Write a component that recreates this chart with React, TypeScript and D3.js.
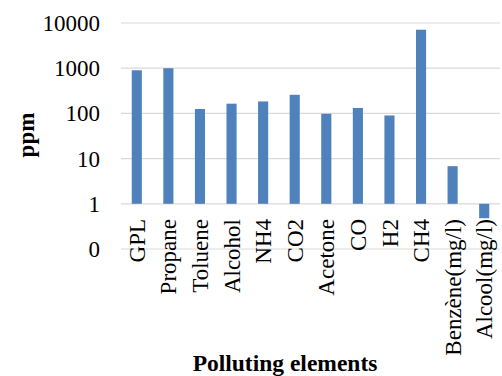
import React from "react";
import * as d3 from "d3";

const categories = ["GPL","Propane","Toluene","Alcohol","NH4","CO2","Acetone","CO","H2","CH4","Benzène(mg/l)","Alcool(mg/l)"];
const values = [900, 1000, 125, 164, 184, 258, 98, 132, 90, 7100, 6.8, 0.48];
const tickValues = [0.1, 1, 10, 100, 1000, 10000];
const tickLabels = ["0", "1", "10", "100", "1000", "10000"];

const W = 502, H = 376;
const font = "'Liberation Serif', 'Times New Roman', serif";

export default function App() {
  const x = d3.scaleBand<string>().domain(categories).range([121, 500]).paddingInner(0.68).paddingOuter(0.34);
  const y = d3.scaleLog().domain([0.1, 10000]).range([249, 23]);
  const base = y(1);
  return (
    <svg width={W} height={H} style={{ position: "absolute", left: 0, top: 0 }} fontFamily={font}>
      <rect width={W} height={H} fill="#fff" />
      {tickValues.map((t, i) => (
        <g key={t}>
          <line x1={121} x2={500} y1={y(t)} y2={y(t)} stroke="#d9d9d9" strokeWidth={1.2} />
          <text x={100} y={y(t)} dy="0.35em" textAnchor="end" fontSize={23} fill="#000">{tickLabels[i]}</text>
        </g>
      ))}
      {categories.map((c, i) => {
        const v = values[i];
        const y0 = Math.min(base, y(v));
        const y1 = Math.max(base, y(v));
        return <rect key={c} x={x(c)} width={x.bandwidth()} y={y0} height={y1 - y0} fill="#4f81bd" />;
      })}
      {categories.map((c) => (
        <text key={c} transform={`translate(${(x(c) as number) + x.bandwidth() / 2},219) rotate(-90)`} dy="0.35em" textAnchor="end" fontSize={23} fill="#000">{c}</text>
      ))}
      <text transform="translate(26,135) rotate(-90)" dy="0.35em" textAnchor="middle" fontSize={23} fontWeight="bold">ppm</text>
      <text x={285} y={371} textAnchor="middle" fontSize={23.5} fontWeight="bold">Polluting elements</text>
    </svg>
  );
}
